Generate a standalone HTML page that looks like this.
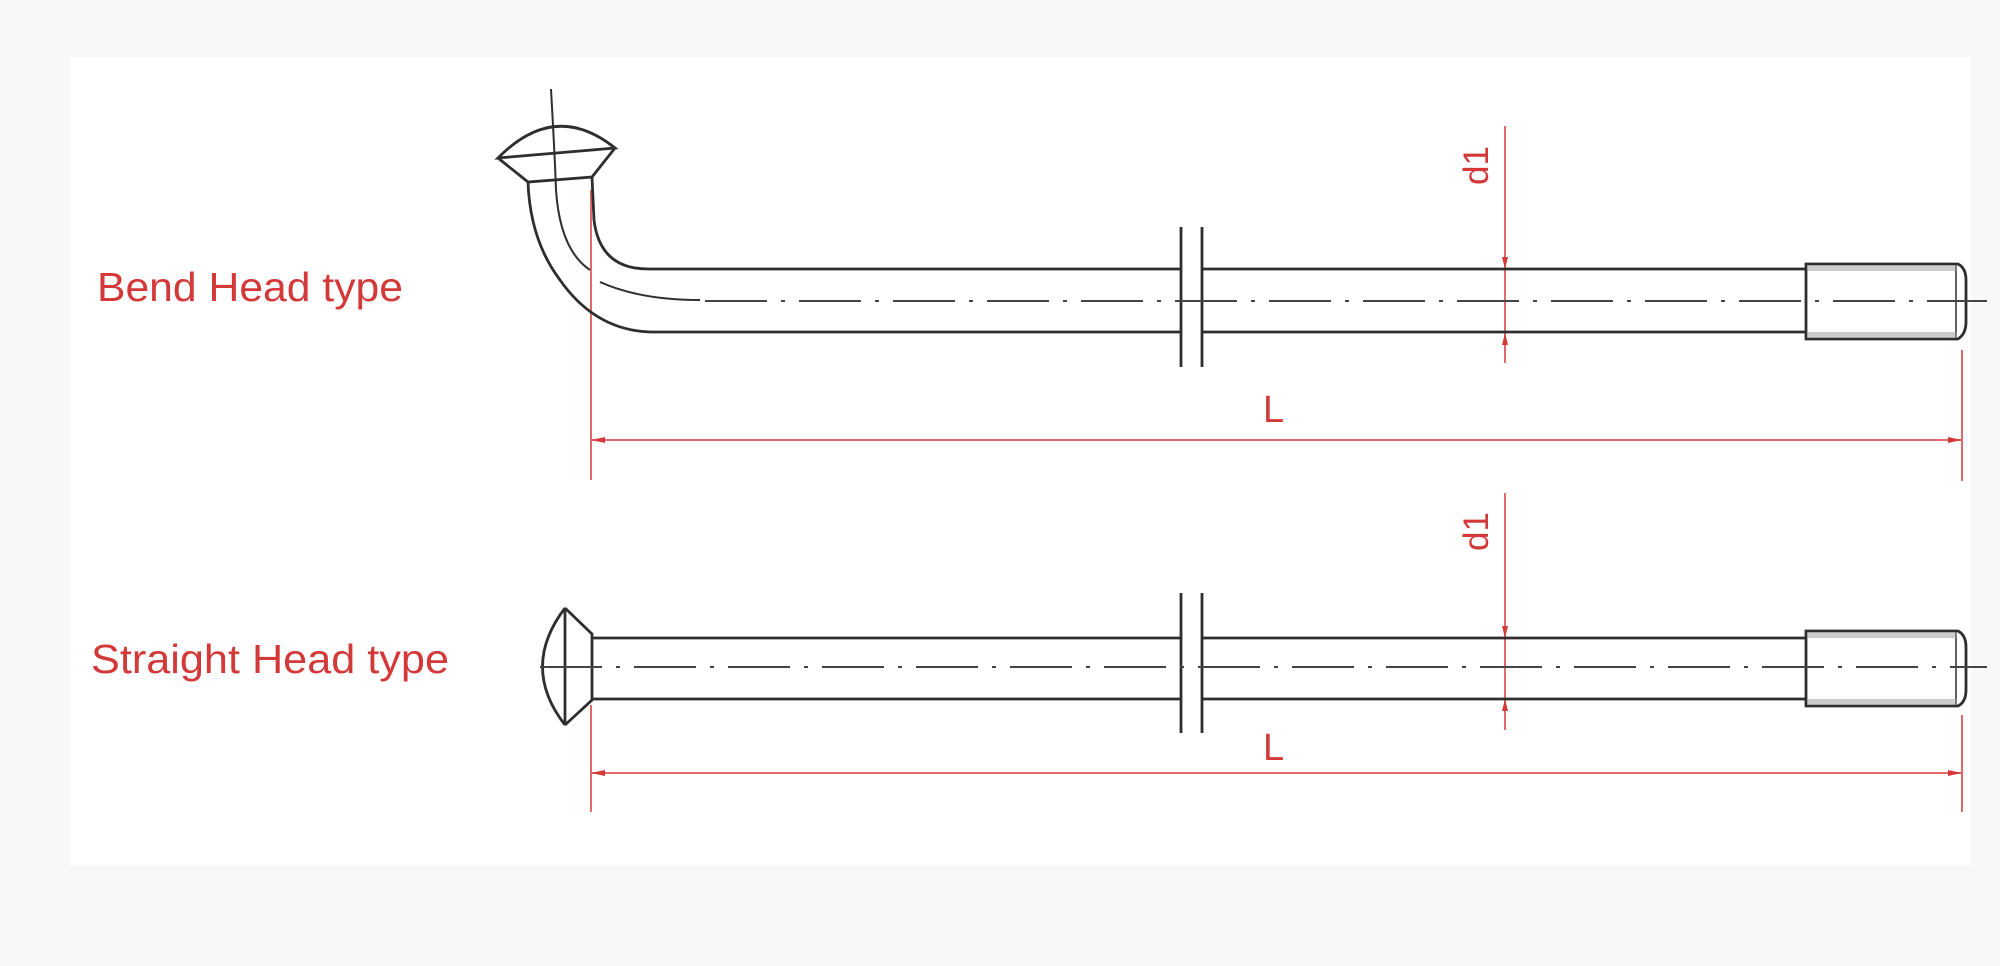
<!DOCTYPE html>
<html><head><meta charset="utf-8"><style>
html,body{margin:0;padding:0;background:#f8f8f8;}
svg{display:block;}
</style></head><body>
<svg width="2000" height="966" viewBox="0 0 2000 966" xmlns="http://www.w3.org/2000/svg">
<rect x="0" y="0" width="2000" height="966" fill="#f8f8f8"/>
<rect x="70" y="57" width="1901" height="808" fill="#ffffff"/>
<g font-family="Liberation Sans, sans-serif" fill="#d4393a">
<text x="97" y="301" font-size="41" textLength="306" lengthAdjust="spacingAndGlyphs">Bend Head type</text>
<text x="91" y="673" font-size="41" textLength="358" lengthAdjust="spacingAndGlyphs">Straight Head type</text>
<text x="1263" y="422" font-size="38">L</text>
<text x="1263" y="760" font-size="38">L</text>
<text transform="translate(1488,185) rotate(-90)" font-size="35">d1</text>
<text transform="translate(1488,551) rotate(-90)" font-size="35">d1</text>
</g>
<g stroke="#e06a6a" stroke-width="2" fill="none">
<line x1="591" y1="190" x2="591" y2="480"/>
<line x1="1962" y1="350" x2="1962" y2="481"/>
<line x1="591" y1="440" x2="1962" y2="440"/>
<line x1="1505" y1="126" x2="1505" y2="363"/>
<line x1="591" y1="705" x2="591" y2="812"/>
<line x1="1962" y1="715" x2="1962" y2="812"/>
<line x1="591" y1="773" x2="1962" y2="773"/>
<line x1="1505" y1="493" x2="1505" y2="730"/>
</g>
<g fill="#d4393a">
<path d="M591 440 l14 -3 v6z"/><path d="M1962 440 l-14 -3 v6z"/>
<path d="M591 773 l14 -3 v6z"/><path d="M1962 773 l-14 -3 v6z"/>
<path d="M1505 269 l-3 -12 h6z"/><path d="M1505 333 l-3 12 h6z"/>
<path d="M1505 638 l-3 -12 h6z"/><path d="M1505 699 l-3 12 h6z"/>
</g>
<g stroke="#2e2e2e" stroke-width="2.8" fill="none">
<path d="M498 158 Q555 100 615 148 Z"/>
<path d="M498 158 L528 182 L592 177 L615 148"/>
<path d="M528 182 Q530 240 560 280 Q595 330 650 332 L1181 332"/>
<path d="M592 177 L594 220 Q600 270 650 269 L1181 269"/>
<path d="M1202 269 L1806 269"/><path d="M1202 332 L1806 332"/>
<path d="M551 89 Q555 160 556 190 Q560 250 590 270" stroke-width="2"/>
<path d="M600 282 Q640 300 700 300" stroke-width="2"/>
<line x1="1181" y1="227" x2="1181" y2="367"/><line x1="1202" y1="227" x2="1202" y2="367"/>
<path d="M1806 264 L1958 264 Q1966 268 1966 280 L1966 322 Q1966 334 1958 339 L1806 339 Z"/>
<line x1="1956" y1="264" x2="1956" y2="339" stroke-width="1.5"/>
<path d="M565 608 Q520 667 565 725"/>
<path d="M565 608 L592 634 L592 700 L565 725"/>
<line x1="565" y1="608" x2="565" y2="725"/>
<line x1="592" y1="638" x2="1181" y2="638"/><line x1="592" y1="699" x2="1181" y2="699"/>
<line x1="1202" y1="638" x2="1806" y2="638"/><line x1="1202" y1="699" x2="1806" y2="699"/>
<line x1="1181" y1="593" x2="1181" y2="733"/><line x1="1202" y1="593" x2="1202" y2="733"/>
<path d="M1806 631 L1958 631 Q1966 635 1966 647 L1966 690 Q1966 702 1958 706 L1806 706 Z"/>
<line x1="1956" y1="631" x2="1956" y2="706" stroke-width="1.5"/>
</g>
<rect x="1807" y="265" width="150" height="6" fill="#999" opacity=".5"/>
<rect x="1807" y="332" width="150" height="6" fill="#999" opacity=".5"/>
<rect x="1807" y="632" width="150" height="6" fill="#999" opacity=".5"/>
<rect x="1807" y="699" width="150" height="6" fill="#999" opacity=".5"/>
<g stroke="#444" stroke-width="2" stroke-dasharray="62 14 4 14">
<line x1="705" y1="301" x2="1987" y2="301"/>
<line x1="540" y1="667" x2="1987" y2="667"/>
</g>
</svg>
</body></html>
